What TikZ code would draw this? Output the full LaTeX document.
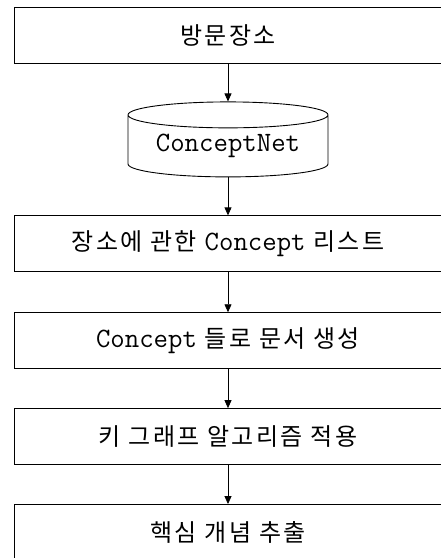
\documentclass[tikz,border=0pt]{standalone}
\usepackage{fontspec}
\newfontfamily\kr[LetterSpace=10]{Noto Sans CJK KR}
\usetikzlibrary{positioning,shapes.geometric,arrows.meta}

\begin{document}
\begin{tikzpicture}[x=1pt,y=1pt]
        \tikzstyle{stepbox}=[rectangle,draw=black,line width=0.9pt,minimum width=427pt,minimum height=56pt,inner sep=0pt,font=\fontsize{24}{28}\selectfont\kr]
        \tikzstyle{store}=[cylinder,shape border rotate=90,draw=black,line width=0.9pt,minimum width=200pt,minimum height=75pt,aspect=0.18,inner sep=0pt]
        \tikzstyle{feed}=[{Triangle[length=8pt,width=7pt]}-,line width=0.8pt]

        \useasboundingbox (0,0) rectangle (441,-558);

        \node[stepbox](place) at (228,-35){방문장소};
        \node[store](cnet)[below=38pt of place]{\fontsize{28}{30}\selectfont\ttfamily ConceptNet}
        edge[feed](place);
        \node[stepbox](list)[below=38pt of cnet]{장소에 관한 {\fontsize{28}{30}\selectfont\ttfamily Concept} 리스트}
        edge[feed](cnet);
        \node[stepbox](doc)[below=40pt of list]{{\fontsize{28}{30}\selectfont\ttfamily Concept} 들로 문서 생성}
        edge[feed](list);
        \node[stepbox](graph)[below=39pt of doc]{키 그래프 알고리즘 적용}
        edge[feed](doc);
        \node[stepbox](core)[below=39pt of graph]{핵심 개념 추출}
        edge[feed](graph);
\end{tikzpicture}
\end{document}
